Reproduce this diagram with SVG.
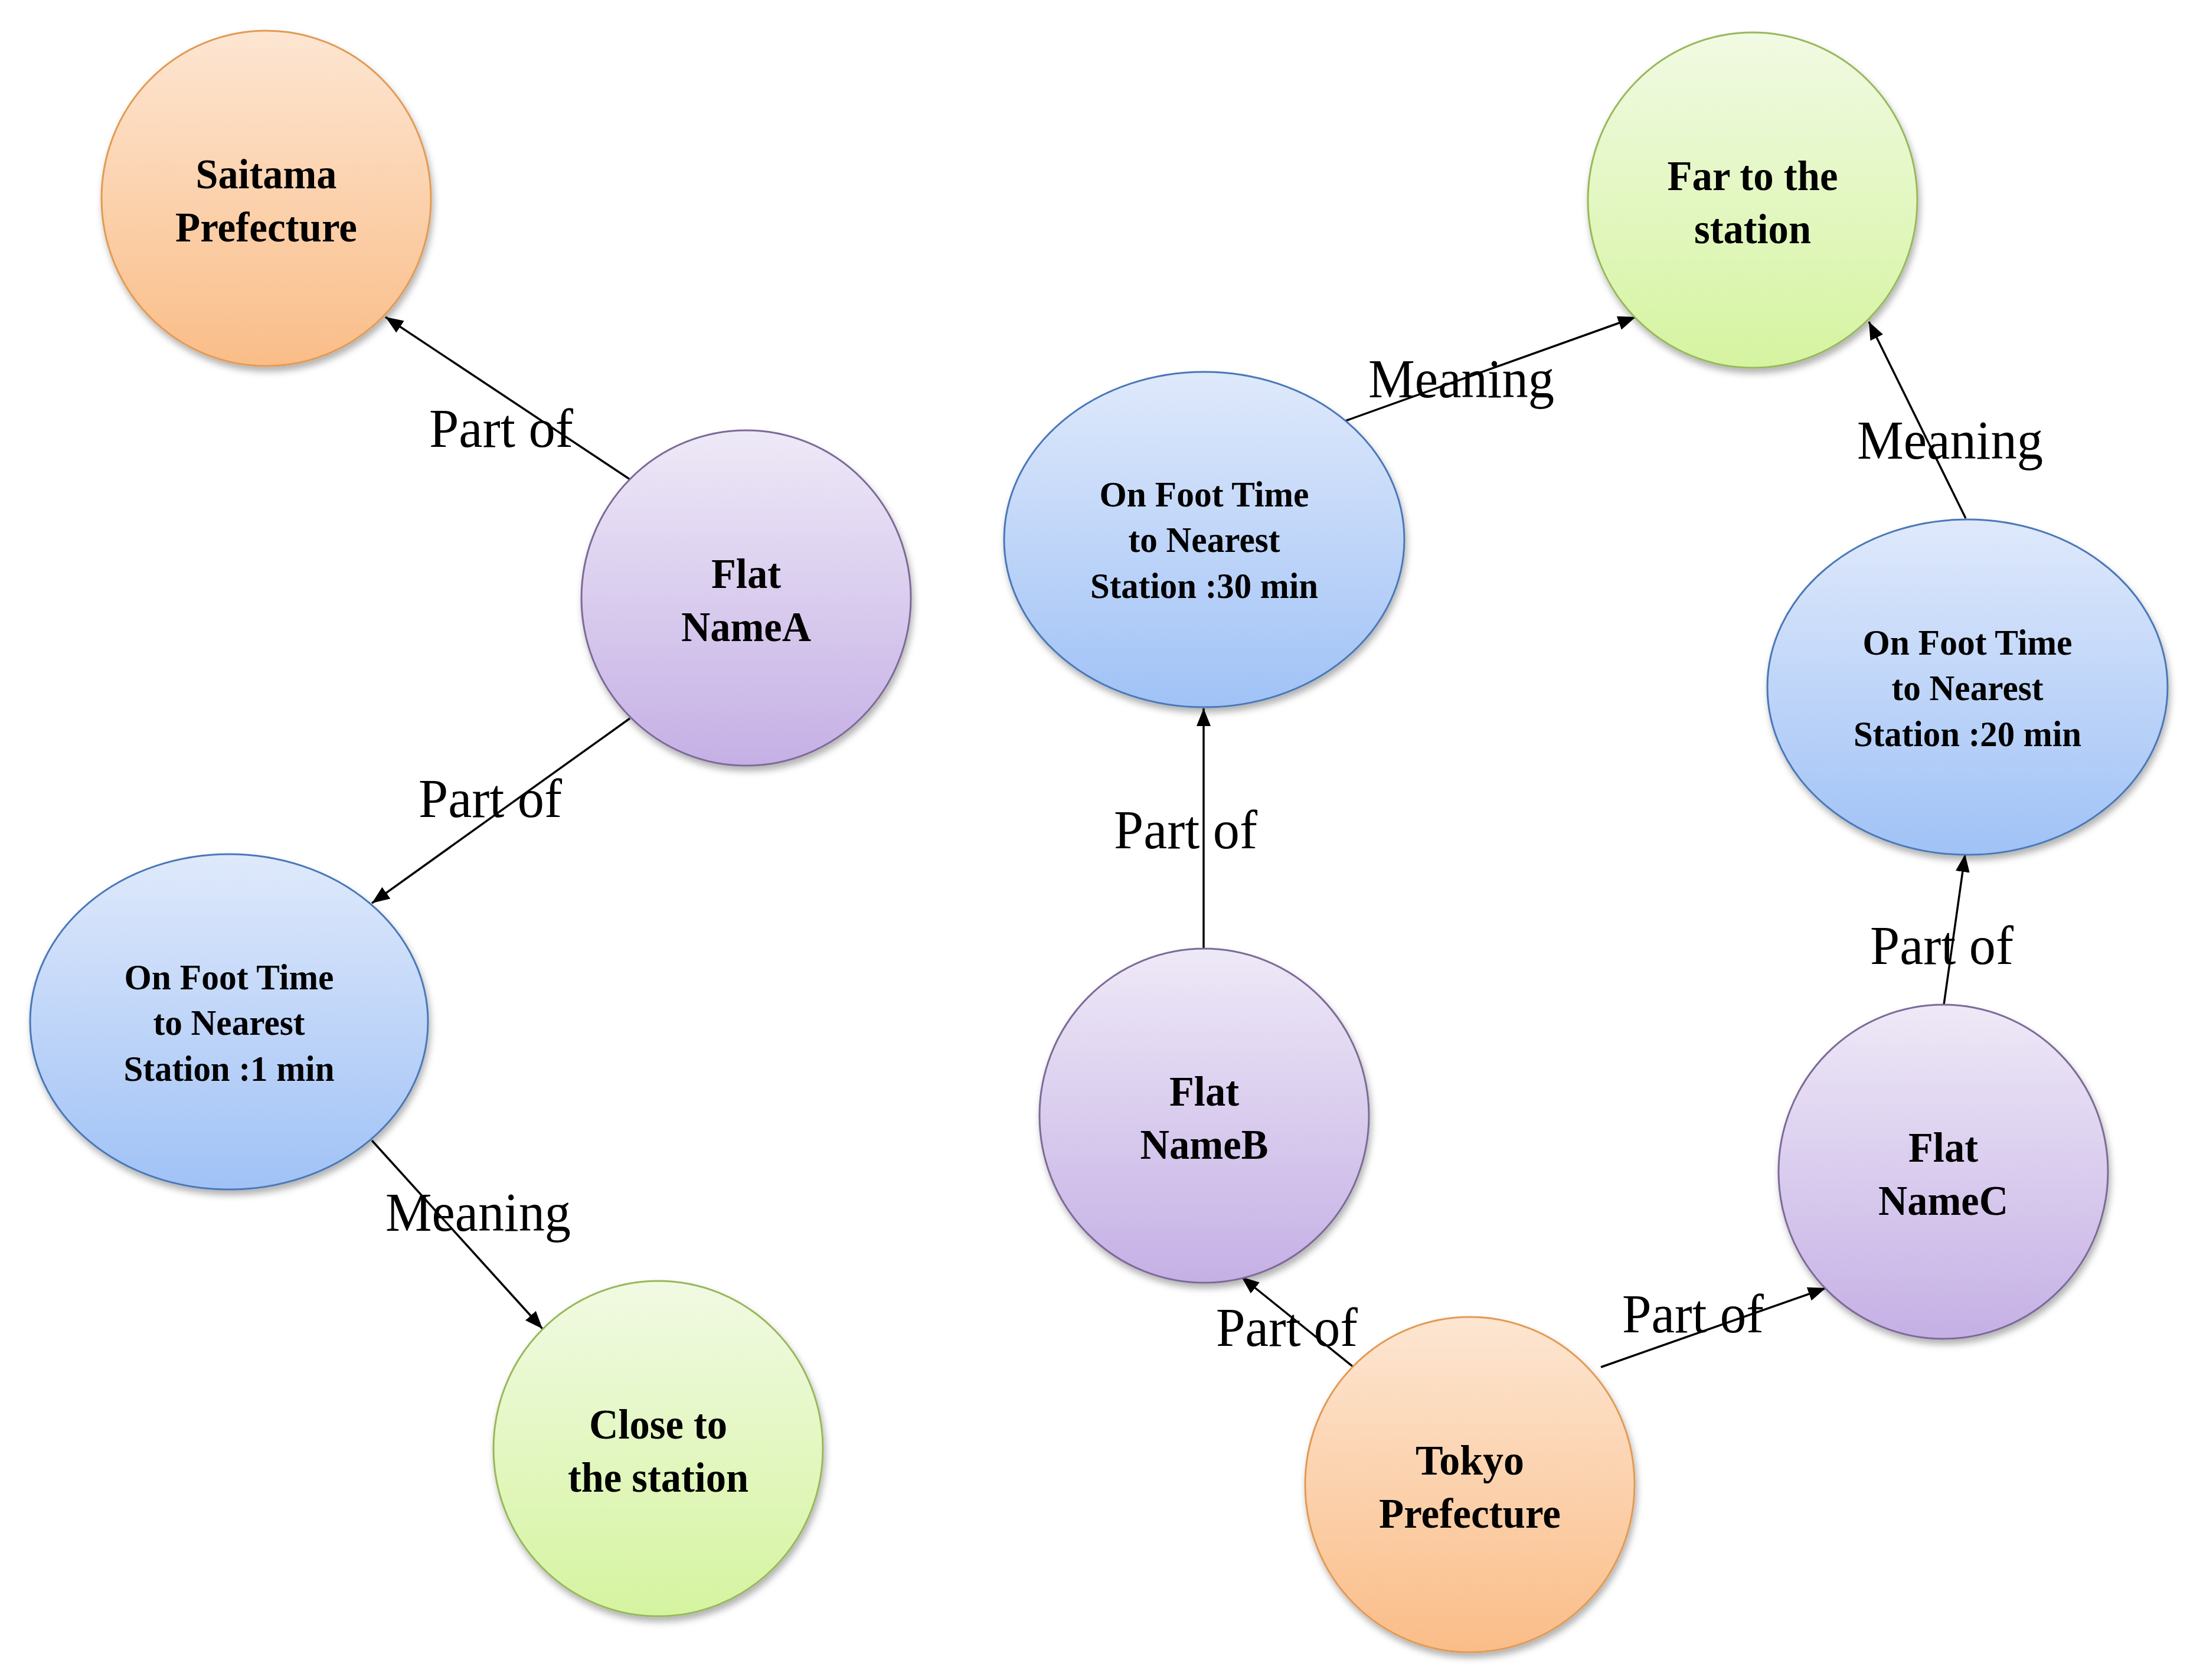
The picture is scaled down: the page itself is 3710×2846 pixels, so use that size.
<svg xmlns="http://www.w3.org/2000/svg" width="3710" height="2846" viewBox="0 0 3710 2846">
<style>
.node{stroke-width:3}
.orange{fill:url(#gOrange);stroke:#e39a52}
.purple{fill:url(#gPurple);stroke:#7c6a98}
.blue{fill:url(#gBlue);stroke:#4a78b8}
.green{fill:url(#gGreen);stroke:#98b85a}
.nt{font-family:"Liberation Serif","Times New Roman",serif;font-weight:bold;fill:#000;text-anchor:middle}
.n2{font-size:72px}
.n3{font-size:62px}
.edge{stroke:#000;stroke-width:3.5;fill:none;marker-end:url(#arrow)}
.lbl{font-family:"Liberation Serif","Times New Roman",serif;font-size:94px;fill:#000}
</style>
<defs>
<linearGradient id="gOrange" x1="0" y1="0" x2="0" y2="1"><stop offset="0" stop-color="#fde6d2"/><stop offset="1" stop-color="#fabd88"/></linearGradient>
<linearGradient id="gPurple" x1="0" y1="0" x2="0" y2="1"><stop offset="0" stop-color="#eee9f7"/><stop offset="1" stop-color="#c5b0e5"/></linearGradient>
<linearGradient id="gBlue" x1="0" y1="0" x2="0" y2="1"><stop offset="0" stop-color="#dfe9fb"/><stop offset="1" stop-color="#a0c2f6"/></linearGradient>
<linearGradient id="gGreen" x1="0" y1="0" x2="0" y2="1"><stop offset="0" stop-color="#f1fae3"/><stop offset="1" stop-color="#d5f4a0"/></linearGradient>
<filter id="shadow" x="-10%" y="-10%" width="125%" height="125%"><feDropShadow dx="3" dy="8" stdDeviation="6" flood-color="#000" flood-opacity="0.3"/></filter>
<marker id="arrow" markerUnits="userSpaceOnUse" markerWidth="32" markerHeight="26" refX="30" refY="12" orient="auto"><path d="M0,0 L30,12 L0,24 Z" fill="#000"/></marker>
</defs>
<rect width="3710" height="2846" fill="#fff"/>
<g id="connectors">
<line class="edge" x1="1067" y1="812" x2="653" y2="537"/>
<line class="edge" x1="1067" y1="1217" x2="630" y2="1530"/>
<line class="edge" x1="630" y1="1932" x2="919" y2="2251"/>
<line class="edge" x1="2279" y1="713" x2="2771" y2="537"/>
<line class="edge" x1="3330" y1="878" x2="3166" y2="545"/>
<line class="edge" x1="2039" y1="1609" x2="2039" y2="1200"/>
<line class="edge" x1="3293" y1="1702" x2="3329" y2="1447"/>
<line class="edge" x1="2293" y1="2316" x2="2103" y2="2163"/>
<line class="edge" x1="2712" y1="2316" x2="3093" y2="2182"/>
</g>
<g id="node-saitama"><ellipse class="node orange" filter="url(#shadow)" cx="451" cy="336" rx="279" ry="284"/>
<text class="nt n2" x="451" y="319" textLength="239" lengthAdjust="spacingAndGlyphs">Saitama</text>
<text class="nt n2" x="451" y="409" textLength="308" lengthAdjust="spacingAndGlyphs">Prefecture</text></g>
<g id="node-nameA"><ellipse class="node purple" filter="url(#shadow)" cx="1264" cy="1013" rx="279" ry="284"/>
<text class="nt n2" x="1264" y="996" textLength="118" lengthAdjust="spacingAndGlyphs">Flat</text>
<text class="nt n2" x="1264" y="1086" textLength="220" lengthAdjust="spacingAndGlyphs">NameA</text></g>
<g id="node-onfoot1"><ellipse class="node blue" filter="url(#shadow)" cx="388" cy="1731" rx="337" ry="284"/>
<text class="nt n3" x="388" y="1676" textLength="355" lengthAdjust="spacingAndGlyphs">On Foot Time</text>
<text class="nt n3" x="388" y="1753" textLength="257" lengthAdjust="spacingAndGlyphs">to Nearest</text>
<text class="nt n3" x="388" y="1831" textLength="357" lengthAdjust="spacingAndGlyphs">Station :1 min</text></g>
<g id="node-close"><ellipse class="node green" filter="url(#shadow)" cx="1115" cy="2454" rx="279" ry="284"/>
<text class="nt n2" x="1115" y="2437" textLength="234" lengthAdjust="spacingAndGlyphs">Close to</text>
<text class="nt n2" x="1115" y="2527" textLength="306" lengthAdjust="spacingAndGlyphs">the station</text></g>
<g id="node-onfoot30"><ellipse class="node blue" filter="url(#shadow)" cx="2040" cy="914" rx="339" ry="284"/>
<text class="nt n3" x="2040" y="858" textLength="355" lengthAdjust="spacingAndGlyphs">On Foot Time</text>
<text class="nt n3" x="2040" y="935" textLength="257" lengthAdjust="spacingAndGlyphs">to Nearest</text>
<text class="nt n3" x="2040" y="1013" textLength="386" lengthAdjust="spacingAndGlyphs">Station :30 min</text></g>
<g id="node-far"><ellipse class="node green" filter="url(#shadow)" cx="2969" cy="339" rx="279" ry="284"/>
<text class="nt n2" x="2969" y="322" textLength="289" lengthAdjust="spacingAndGlyphs">Far to the</text>
<text class="nt n2" x="2969" y="412" textLength="198" lengthAdjust="spacingAndGlyphs">station</text></g>
<g id="node-onfoot20"><ellipse class="node blue" filter="url(#shadow)" cx="3333" cy="1164" rx="339" ry="284"/>
<text class="nt n3" x="3333" y="1109" textLength="355" lengthAdjust="spacingAndGlyphs">On Foot Time</text>
<text class="nt n3" x="3333" y="1186" textLength="257" lengthAdjust="spacingAndGlyphs">to Nearest</text>
<text class="nt n3" x="3333" y="1264" textLength="386" lengthAdjust="spacingAndGlyphs">Station :20 min</text></g>
<g id="node-nameB"><ellipse class="node purple" filter="url(#shadow)" cx="2040" cy="1890" rx="279" ry="283"/>
<text class="nt n2" x="2040" y="1873" textLength="118" lengthAdjust="spacingAndGlyphs">Flat</text>
<text class="nt n2" x="2040" y="1963" textLength="217" lengthAdjust="spacingAndGlyphs">NameB</text></g>
<g id="node-nameC"><ellipse class="node purple" filter="url(#shadow)" cx="3292" cy="1985" rx="279" ry="283"/>
<text class="nt n2" x="3292" y="1968" textLength="118" lengthAdjust="spacingAndGlyphs">Flat</text>
<text class="nt n2" x="3292" y="2058" textLength="220" lengthAdjust="spacingAndGlyphs">NameC</text></g>
<g id="node-tokyo"><ellipse class="node orange" filter="url(#shadow)" cx="2490" cy="2515" rx="279" ry="284"/>
<text class="nt n2" x="2490" y="2498" textLength="184" lengthAdjust="spacingAndGlyphs">Tokyo</text>
<text class="nt n2" x="2490" y="2588" textLength="308" lengthAdjust="spacingAndGlyphs">Prefecture</text></g>
<g id="edge-labels">
<text class="lbl" x="727" y="757" textLength="244" lengthAdjust="spacingAndGlyphs">Part of</text>
<text class="lbl" x="709" y="1384" textLength="243" lengthAdjust="spacingAndGlyphs">Part of</text>
<text class="lbl" x="653" y="2085" textLength="314" lengthAdjust="spacingAndGlyphs">Meaning</text>
<text class="lbl" x="2318" y="673" textLength="315" lengthAdjust="spacingAndGlyphs">Meaning</text>
<text class="lbl" x="3146" y="777" textLength="315" lengthAdjust="spacingAndGlyphs">Meaning</text>
<text class="lbl" x="1887" y="1437" textLength="243" lengthAdjust="spacingAndGlyphs">Part of</text>
<text class="lbl" x="3168" y="1633" textLength="243" lengthAdjust="spacingAndGlyphs">Part of</text>
<text class="lbl" x="2060" y="2280" textLength="240" lengthAdjust="spacingAndGlyphs">Part of</text>
<text class="lbl" x="2748" y="2257" textLength="240" lengthAdjust="spacingAndGlyphs">Part of</text>
</g>
</svg>
